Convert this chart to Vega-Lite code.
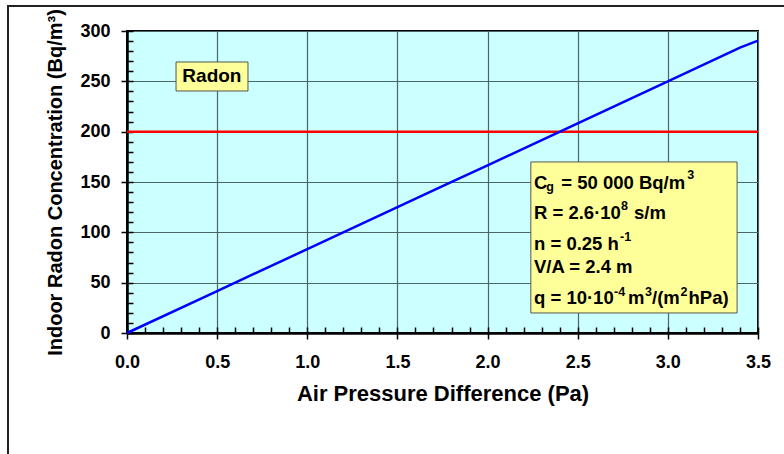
{
  "$schema": "https://vega.github.io/schema/vega-lite/v6.json",
  "width": 631,
  "height": 302,
  "autosize": {"type": "none"},
  "padding": {"left": 127, "top": 31, "right": 26, "bottom": 121},
  "background": "#ffffff",
  "data": {"values": [{}]},
  "config": {
    "view": {"fill": "#ccffff", "stroke": "#000000", "strokeWidth": 2},
    "font": "Liberation Sans",
    "text": {"font": "Liberation Sans", "fontWeight": "bold", "fontSize": 18.5, "align": "left", "baseline": "alphabetic", "color": "#000000"},
    "axis": {
      "labelFont": "Liberation Sans",
      "labelFontWeight": "bold",
      "labelFontSize": 18,
      "labelColor": "#000000",
      "labelFlush": false,
      "titleFont": "Liberation Sans",
      "titleFontWeight": "bold",
      "titleFontSize": 20,
      "titleColor": "#000000",
      "domainColor": "#000000",
      "domainWidth": 2.5,
      "tickColor": "#000000",
      "tickWidth": 1.5,
      "gridColor": "#4a6666",
      "gridWidth": 1.2,
      "gridOpacity": 1
    }
  },
  "resolve": {"axis": {"x": "independent", "y": "independent"}},
  "layer": [
    {
      "mark": {"type": "rect", "fill": null, "stroke": "#222222", "strokeWidth": 2, "clip": false},
      "encoding": {
        "x": {"datum": -0.66, "type": "quantitative", "scale": {"domain": [0, 3.5], "nice": false, "zero": false}, "axis": null},
        "x2": {"datum": 3.8},
        "y": {"datum": -140, "type": "quantitative", "scale": {"domain": [0, 300], "nice": false, "zero": false}, "axis": null},
        "y2": {"datum": 324.8}
      }
    },
    {
      "data": {"values": [{"p": 0, "c": 0}]},
      "mark": {"type": "point", "opacity": 0},
      "encoding": {
        "x": {"field": "p", "type": "quantitative", "axis": {
          "orient": "bottom", "values": [0, 0.5, 1, 1.5, 2, 2.5, 3, 3.5], "format": ".1f",
          "grid": true, "tickSize": 6, "labelPadding": 14, "title": "Air Pressure Difference (Pa)", "titleFontSize": 22, "titlePadding": 12
        }},
        "y": {"field": "c", "type": "quantitative", "axis": {
          "orient": "left", "values": [0, 50, 100, 150, 200, 250, 300], "format": "d",
          "grid": true, "tickSize": 6, "labelPadding": 11, "title": "Indoor Radon Concentration (Bq/m³)", "titlePadding": 14
        }}
      }
    },
    {
      "data": {"values": [{"p": 0, "c": 0}]},
      "mark": {"type": "point", "opacity": 0},
      "encoding": {
        "x": {"field": "p", "type": "quantitative", "axis": {
          "orient": "bottom", "values": [0, 0.1, 0.2, 0.3, 0.4, 0.5, 0.6, 0.7, 0.8, 0.9, 1, 1.1, 1.2, 1.3, 1.4, 1.5, 1.6, 1.7, 1.8, 1.9, 2, 2.1, 2.2, 2.3, 2.4, 2.5, 2.6, 2.7, 2.8, 2.9, 3, 3.1, 3.2, 3.3, 3.4, 3.5],
          "grid": false, "domain": false, "labels": false, "title": null, "tickSize": -6
        }},
        "y": {"field": "c", "type": "quantitative", "axis": {
          "orient": "left", "values": [0, 10, 20, 30, 40, 50, 60, 70, 80, 90, 100, 110, 120, 130, 140, 150, 160, 170, 180, 190, 200, 210, 220, 230, 240, 250, 260, 270, 280, 290, 300],
          "grid": false, "domain": false, "labels": false, "title": null, "tickSize": -6
        }}
      }
    },
    {
      "mark": {"type": "rule", "color": "#ff0000", "strokeWidth": 2.5},
      "encoding": {
        "y": {"datum": 200, "type": "quantitative", "axis": null}
      }
    },
    {
      "data": {"values": [
        {"p": 0, "c": 0},
        {"p": 0.5, "c": 41.7},
        {"p": 1.0, "c": 83.3},
        {"p": 1.5, "c": 125},
        {"p": 1.78, "c": 148.5},
        {"p": 2.0, "c": 166.5},
        {"p": 2.5, "c": 208.3},
        {"p": 3.0, "c": 250},
        {"p": 3.4, "c": 283.5},
        {"p": 3.5, "c": 290.5}
      ]},
      "mark": {"type": "line", "color": "#0000ff", "strokeWidth": 2.5},
      "encoding": {
        "x": {"field": "p", "type": "quantitative", "axis": null},
        "y": {"field": "c", "type": "quantitative", "axis": null}
      }
    },
    {
      "mark": {"type": "rect", "fill": "#ffff99", "stroke": "#555555", "strokeWidth": 1},
      "encoding": {
        "x": {"datum": 0.272, "type": "quantitative", "axis": null},
        "x2": {"datum": 0.671},
        "y": {"datum": 240.4, "type": "quantitative", "axis": null},
        "y2": {"datum": 269.2}
      }
    },
    {
      "mark": {"type": "text", "text": "Radon", "align": "center", "baseline": "middle", "fontSize": 19},
      "encoding": {
        "x": {"datum": 0.471, "type": "quantitative", "axis": null},
        "y": {"datum": 255.3, "type": "quantitative", "axis": null}
      }
    },
    {
      "mark": {"type": "rect", "fill": "#ffff99", "stroke": "#555555", "strokeWidth": 1},
      "encoding": {
        "x": {"datum": 2.24, "type": "quantitative", "axis": null},
        "x2": {"datum": 3.384},
        "y": {"datum": 19.9, "type": "quantitative", "axis": null},
        "y2": {"datum": 169.9}
      }
    },
    {
      "data": {"values": [
        {"label": "C", "c": 143.35},
        {"label": "R = 2.6·10", "c": 113.54},
        {"label": "n = 0.25 h", "c": 82.45},
        {"label": "V/A = 2.4 m", "c": 59.3},
        {"label": "q = 10·10", "c": 28.81}
      ]},
      "mark": {"type": "text"},
      "encoding": {
        "x": {"datum": 2.2575, "type": "quantitative", "axis": null},
        "y": {"field": "c", "type": "quantitative", "axis": null},
        "text": {"field": "label"}
      }
    },
    {
      "mark": {"type": "text", "text": "g", "fontSize": 12.5},
      "encoding": {
        "x": {"datum": 2.3257, "type": "quantitative", "axis": null},
        "y": {"datum": 141.06, "type": "quantitative", "axis": null}
      }
    },
    {
      "mark": {"type": "text", "text": "= 50 000 Bq/m"},
      "encoding": {
        "x": {"datum": 2.4089, "type": "quantitative", "axis": null},
        "y": {"datum": 143.35, "type": "quantitative", "axis": null}
      }
    },
    {
      "mark": {"type": "text", "text": "3", "fontSize": 12.5},
      "encoding": {
        "x": {"datum": 3.1078, "type": "quantitative", "axis": null},
        "y": {"datum": 153.28, "type": "quantitative", "axis": null}
      }
    },
    {
      "mark": {"type": "text", "text": "8", "fontSize": 12.5},
      "encoding": {
        "x": {"datum": 2.7401, "type": "quantitative", "axis": null},
        "y": {"datum": 122.48, "type": "quantitative", "axis": null}
      }
    },
    {
      "mark": {"type": "text", "text": "s/m"},
      "encoding": {
        "x": {"datum": 2.8122, "type": "quantitative", "axis": null},
        "y": {"datum": 113.54, "type": "quantitative", "axis": null}
      }
    },
    {
      "mark": {"type": "text", "text": "-1", "fontSize": 12.5},
      "encoding": {
        "x": {"datum": 2.7345, "type": "quantitative", "axis": null},
        "y": {"datum": 91.69, "type": "quantitative", "axis": null}
      }
    },
    {
      "mark": {"type": "text", "text": "-4", "fontSize": 12.5},
      "encoding": {
        "x": {"datum": 2.7013, "type": "quantitative", "axis": null},
        "y": {"datum": 37.05, "type": "quantitative", "axis": null}
      }
    },
    {
      "mark": {"type": "text", "text": "m"},
      "encoding": {
        "x": {"datum": 2.7789, "type": "quantitative", "axis": null},
        "y": {"datum": 28.81, "type": "quantitative", "axis": null}
      }
    },
    {
      "mark": {"type": "text", "text": "3", "fontSize": 12.5},
      "encoding": {
        "x": {"datum": 2.8732, "type": "quantitative", "axis": null},
        "y": {"datum": 37.05, "type": "quantitative", "axis": null}
      }
    },
    {
      "mark": {"type": "text", "text": "/(m"},
      "encoding": {
        "x": {"datum": 2.912, "type": "quantitative", "axis": null},
        "y": {"datum": 28.81, "type": "quantitative", "axis": null}
      }
    },
    {
      "mark": {"type": "text", "text": "2", "fontSize": 12.5},
      "encoding": {
        "x": {"datum": 3.0701, "type": "quantitative", "axis": null},
        "y": {"datum": 37.05, "type": "quantitative", "axis": null}
      }
    },
    {
      "mark": {"type": "text", "text": "hPa)"},
      "encoding": {
        "x": {"datum": 3.1145, "type": "quantitative", "axis": null},
        "y": {"datum": 28.81, "type": "quantitative", "axis": null}
      }
    }
  ]
}
